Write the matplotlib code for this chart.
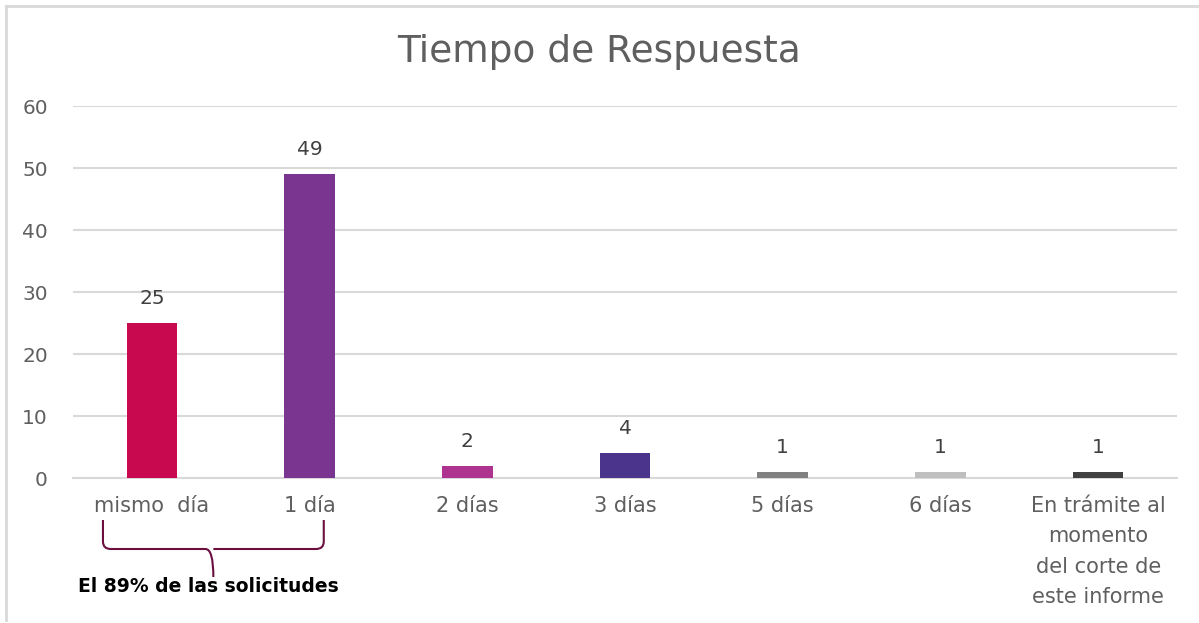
import matplotlib.pyplot as plt
from matplotlib.lines import Line2D
from matplotlib.path import Path
from matplotlib.patches import PathPatch
import matplotlib.transforms as mtransforms

categorias = ['mismo  día', '1 día', '2 días', '3 días', '5 días', '6 días',
              'En trámite al\nmomento\ndel corte de\neste informe']
valores = [25, 49, 2, 4, 1, 1, 1]
colores = ['#C8084F', '#7A3590', '#AE3391', '#4A348C', '#808080', '#BFBFBF', '#404040']
yticks = [0, 10, 20, 30, 40, 50, 60]

plt.rcParams['font.family'] = ['DejaVu Sans']
gris = '#5F5F5F'

W, H = 1199, 623
fig = plt.figure(figsize=(W / 100, H / 100), dpi=100)
ax = fig.add_axes([73 / W, 145 / H, 1104 / W, 372 / H])

x = list(range(len(categorias)))
ax.bar(x, valores, width=0.32, color=colores, zorder=3)
for xi, v in zip(x, valores):
    ax.text(xi, v + 2.4, str(v), ha='center', va='bottom', fontsize=14.5, color='#404040')

ax.set_xlim(-0.5, len(categorias) - 0.5)
ax.set_ylim(0, 60)
ax.set_yticks(yticks)
ax.set_xticks(x)
ax.set_xticklabels(categorias, fontsize=15, color=gris, linespacing=1.65, va='top')
ax.tick_params(axis='both', length=0, labelcolor=gris)
ax.tick_params(axis='y', labelsize=14.5, pad=18)
ax.tick_params(axis='x', pad=13)
ax.grid(axis='y', color='#D9D9D9', linewidth=1.5, zorder=0)
for s in ['top', 'right', 'left']:
    ax.spines[s].set_visible(False)
ax.spines['bottom'].set_color('#D9D9D9')
ax.spines['bottom'].set_linewidth(1.5)

fig.text(599 / W, 1 - 52 / H, 'Tiempo de Respuesta', ha='center', va='center',
         fontsize=27, color=gris)

# llave bajo las dos primeras categorias
trans = mtransforms.blended_transform_factory(ax.transData, fig.transFigure)
x0, x1 = -0.31, 1.09
xm = (x0 + x1) / 2
ytop, ymid, ybot = 1 - 520 / H, 1 - 549 / H, 1 - 577 / H
r = 0.05
verts = [(x0, ytop), (x0, ymid + 0.012), (x0, ymid), (x0 + r, ymid),
         (xm - r, ymid), (xm, ymid), (xm, ybot),
         (xm, ymid), (xm + r, ymid),
         (x1 - r, ymid), (x1, ymid), (x1, ymid + 0.012), (x1, ytop)]
codes = [Path.MOVETO, Path.LINETO, Path.CURVE3, Path.CURVE3,
         Path.LINETO, Path.CURVE3, Path.CURVE3,
         Path.MOVETO, Path.LINETO,
         Path.LINETO, Path.CURVE3, Path.CURVE3, Path.LINETO]
fig.add_artist(PathPatch(Path(verts, codes), transform=trans, fill=False,
                         edgecolor='#6B0F3F', linewidth=1.5))
fig.text(208 / W, 1 - 587 / H, 'El 89% de las solicitudes', ha='center', va='center',
         fontsize=13.5, fontweight='bold', color='black')

# marco del grafico
fig.add_artist(Line2D([6 / W, 6 / W], [1 - 620 / H, 1 - 6 / H], transform=fig.transFigure,
                      color='#D9D9D9', linewidth=2))
fig.add_artist(Line2D([6 / W, 1], [1 - 6 / H, 1 - 6 / H], transform=fig.transFigure,
                      color='#D9D9D9', linewidth=2))

fig.savefig('out.png', dpi=100)
